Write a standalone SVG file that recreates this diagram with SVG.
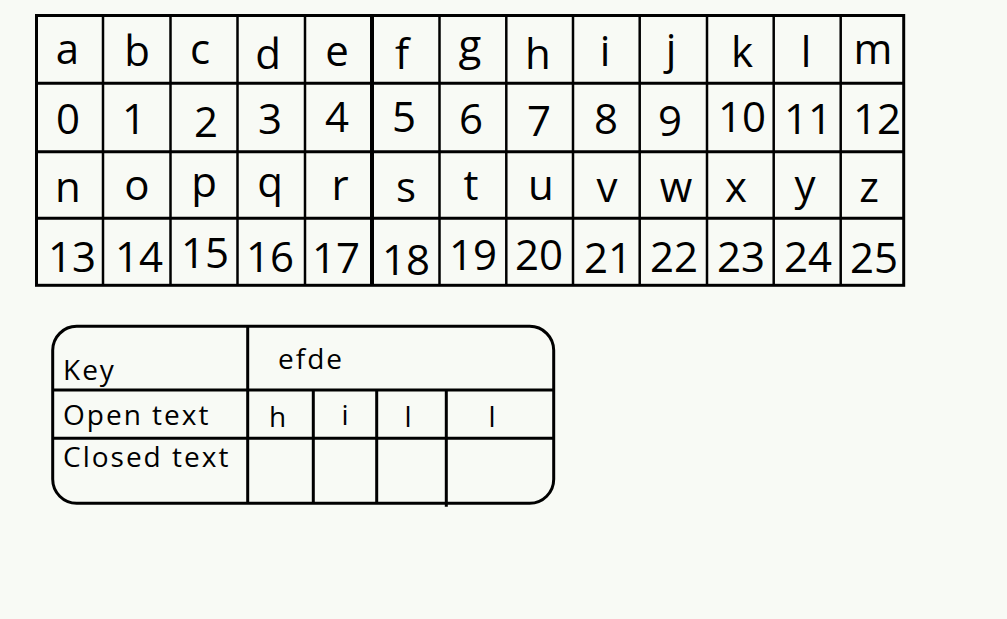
<svg xmlns="http://www.w3.org/2000/svg" width="1007" height="619" viewBox="0 0 1007 619">
<style>
.bg{fill:#f8faf5}
.ln{stroke:#000;fill:none;stroke-width:2.5}
.ob{stroke:#000;fill:none;stroke-width:3}
.th{stroke:#000;fill:none;stroke-width:4}
.big{font-family:"Open Sans","Liberation Sans",sans-serif;font-size:42px;fill:#000;text-anchor:middle}
.sm{font-family:"Open Sans","Liberation Sans",sans-serif;font-size:28px;fill:#000;letter-spacing:2px}
.smc{font-family:"Open Sans","Liberation Sans",sans-serif;font-size:28px;fill:#000;text-anchor:middle}
</style>
<rect class="bg" x="0" y="0" width="1007" height="619"/>
<g id="alphabet-table">
<g id="grid">
<path class="ln" d="M103 15.5V285.3M170.5 15.5V285.3M237.5 15.5V285.3M305 15.5V285.3M439.5 15.5V285.3M506.3 15.5V285.3M573 15.5V285.3M639.7 15.5V285.3M707 15.5V285.3M773.7 15.5V285.3M840.7 15.5V285.3"/>
<path class="ob" d="M36.5 83.3H903.7M36.5 151.7H903.7M36.5 218.3H903.7"/>
<path class="th" d="M372 15.5V285.3"/>
<rect class="ob" x="36.5" y="15.5" width="867.2" height="269.8"/>
</g>
<g id="row-letters-1">
<text class="big" x="67.5" y="64">a</text>
<text class="big" x="137" y="65.5">b</text>
<text class="big" x="200" y="64">c</text>
<text class="big" x="268" y="69">d</text>
<text class="big" x="337" y="65.5">e</text>
<text class="big" x="402" y="69">f</text>
<text class="big" x="470" y="60">g</text>
<text class="big" x="538" y="69">h</text>
<text class="big" x="605" y="65.5">i</text>
<text class="big" x="671" y="64">j</text>
<text class="big" x="742" y="67">k</text>
<text class="big" x="806" y="67">l</text>
<text class="big" x="873" y="64">m</text>
</g>
<g id="row-numbers-1">
<text class="big" x="68" y="134">0</text>
<text class="big" x="134" y="134">1</text>
<text class="big" x="206" y="137">2</text>
<text class="big" x="270" y="134">3</text>
<text class="big" x="337" y="132">4</text>
<text class="big" x="404" y="132">5</text>
<text class="big" x="471" y="134">6</text>
<text class="big" x="539" y="135.5">7</text>
<text class="big" x="606" y="134">8</text>
<text class="big" x="670" y="135.5">9</text>
<text class="big" x="742" y="132">10</text>
<text class="big" x="808" y="134">11</text>
<text class="big" x="877" y="134">12</text>
</g>
<g id="row-letters-2">
<text class="big" x="68" y="201.5">n</text>
<text class="big" x="137" y="200">o</text>
<text class="big" x="204" y="197">p</text>
<text class="big" x="270" y="197">q</text>
<text class="big" x="340" y="200">r</text>
<text class="big" x="406" y="201.5">s</text>
<text class="big" x="471" y="200">t</text>
<text class="big" x="541" y="200">u</text>
<text class="big" x="607" y="201.5">v</text>
<text class="big" x="676" y="201.5">w</text>
<text class="big" x="736" y="201.5">x</text>
<text class="big" x="805" y="200">y</text>
<text class="big" x="869" y="201.5">z</text>
</g>
<g id="row-numbers-2">
<text class="big" x="72" y="271.5">13</text>
<text class="big" x="139" y="271.5">14</text>
<text class="big" x="205" y="268">15</text>
<text class="big" x="270" y="271.5">16</text>
<text class="big" x="336" y="273">17</text>
<text class="big" x="406" y="275">18</text>
<text class="big" x="473" y="270">19</text>
<text class="big" x="539" y="270">20</text>
<text class="big" x="608" y="273">21</text>
<text class="big" x="674" y="271.5">22</text>
<text class="big" x="741" y="271.5">23</text>
<text class="big" x="808" y="271.5">24</text>
<text class="big" x="874" y="273">25</text>
</g>
</g>
<g id="key-table">
<rect class="ob" x="52.7" y="326.3" width="501" height="177" rx="24" ry="24"/>
<path class="ob" d="M247.7 326.3V503.3M52.7 390H553.7M52.7 438.3H553.7M313.3 390V503.3M376.7 390V503.3M446.3 390V506.7"/>
<g id="key-label"><text class="sm" x="63" y="380">Key</text></g>
<g id="key-value"><text class="sm" x="278" y="369">efde</text></g>
<g id="open-label"><text class="sm" x="63" y="425">Open text</text></g>
<g id="open-values">
<text class="smc" x="277.5" y="427">h</text>
<text class="smc" x="345" y="425">i</text>
<text class="smc" x="408" y="426.5">l</text>
<text class="smc" x="492" y="426.5">l</text>
</g>
<g id="closed-label"><text class="sm" x="63" y="467">Closed text</text></g>
</g>
</svg>
